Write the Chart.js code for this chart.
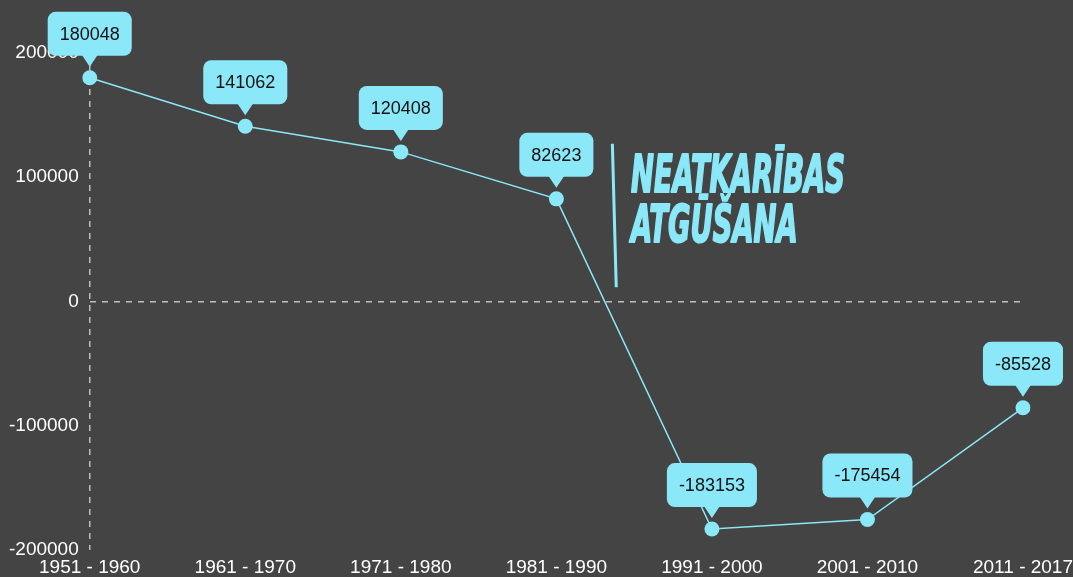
<!DOCTYPE html>
<html>
<head>
<meta charset="utf-8">
<script src="https://cdn.jsdelivr.net/npm/chart.js@4/dist/chart.umd.min.js"></script>
<style>
  html, body { margin: 0; padding: 0; background: #444444; }
  #wrap { width: 1073px; height: 577px; }
</style>
</head>
<body>
<div id="wrap"><canvas id="chart"></canvas></div>
<script>
const decades = ['1951 - 1960', '1961 - 1970', '1971 - 1980', '1981 - 1990', '1991 - 2000', '2001 - 2010', '2011 - 2017'];
const migration = [180048, 141062, 120408, 82623, -183153, -175454, -85528];
const yTicks = [-200000, -100000, 0, 100000, 200000];
const noteLines = ['NEATKARĪBAS', 'ATGŪŠANA'];

const cyan = '#8be8f8';
const gridGrey = '#bdbdbd';
const fontFamily = '"Liberation Sans", Arial, sans-serif';

// callout boxes above each point
const calloutPlugin = {
    id: 'callouts',
    afterDatasetsDraw(chart) {
        const ctx = chart.ctx;
        const meta = chart.getDatasetMeta(0);
        ctx.save();
        ctx.font = '18px ' + fontFamily;
        meta.data.forEach((pt, i) => {
            const txt = String(migration[i]);
            const w = ctx.measureText(txt).width + 24;
            const h = 44;
            const bottom = pt.y - 22;
            const tip = pt.y - 11;
            const left = pt.x - w / 2;
            const top = bottom - h;
            ctx.fillStyle = cyan;
            ctx.beginPath();
            ctx.roundRect(left, top, w, h, 8);
            ctx.fill();
            ctx.beginPath();
            ctx.moveTo(pt.x - 8, bottom - 1);
            ctx.lineTo(pt.x + 8, bottom - 1);
            ctx.lineTo(pt.x, tip);
            ctx.closePath();
            ctx.fill();
            ctx.fillStyle = '#111111';
            ctx.textAlign = 'center';
            ctx.textBaseline = 'middle';
            ctx.fillText(txt, pt.x, top + h / 2 + 1);
        });
        ctx.restore();
    }
};

// "independence restored" marker
const notePlugin = {
    id: 'note',
    afterDatasetsDraw(chart) {
        const ctx = chart.ctx;
        const xs = chart.scales.x;
        const ys = chart.scales.y;
        ctx.save();
        ctx.strokeStyle = cyan;
        ctx.lineWidth = 3;
        ctx.beginPath();
        ctx.moveTo(xs.getPixelForValue(3.36), ys.getPixelForValue(127000));
        ctx.lineTo(xs.getPixelForValue(3.385), ys.getPixelForValue(11500));
        ctx.stroke();

        const x0 = xs.getPixelForValue(3.48);
        ctx.font = 'italic bold 52px "Liberation Sans Narrow", "DejaVu Sans Condensed", sans-serif';
        const sx = 214 / ctx.measureText(noteLines[0]).width;
        ctx.fillStyle = cyan;
        ctx.strokeStyle = cyan;
        ctx.lineWidth = 2;
        ctx.lineJoin = 'round';
        ctx.textBaseline = 'alphabetic';
        ctx.textAlign = 'left';
        ctx.translate(x0, 0);
        ctx.scale(sx, 1);
        const y1 = ys.getPixelForValue(88500);
        const y2 = ys.getPixelForValue(48000);
        ctx.fillText(noteLines[0], 0, y1);
        ctx.strokeText(noteLines[0], 0, y1);
        ctx.fillText(noteLines[1], 0, y2);
        ctx.strokeText(noteLines[1], 0, y2);
        ctx.restore();
    }
};

new Chart(document.getElementById('chart'), {
    type: 'line',
    data: {
        labels: decades,
        datasets: [{
            data: migration,
            borderColor: cyan,
            backgroundColor: cyan,
            borderWidth: 1.5,
            pointRadius: 7.5,
            pointBackgroundColor: cyan,
            pointBorderWidth: 0,
            tension: 0
        }]
    },
    options: {
        responsive: true,
        maintainAspectRatio: false,
        animation: false,
        layout: { padding: { top: 53, left: 6, right: 4, bottom: 0 } },
        plugins: { legend: { display: false }, tooltip: { enabled: false } },
        scales: {
            x: {
                grid: {
                    color: ctx => (ctx.index === 0 ? gridGrey : 'transparent'),
                    lineWidth: 1.5,
                    tickColor: 'transparent',
                    drawTicks: true
                },
                border: { display: false, dash: [6, 6] },
                ticks: { color: '#ffffff', padding: 0, font: { size: 19, family: fontFamily, lineHeight: 1 }, maxRotation: 0 }
            },
            y: {
                min: yTicks[0],
                max: yTicks[yTicks.length - 1],
                afterBuildTicks(scale) { scale.ticks = yTicks.map(v => ({ value: v })); },
                grid: {
                    color: ctx => (ctx.tick && ctx.tick.value === 0 ? gridGrey : 'transparent'),
                    lineWidth: 1.5,
                    tickColor: 'transparent'
                },
                border: { display: false, dash: [6, 6] },
                ticks: {
                    color: '#ffffff',
                    font: { size: 19, family: fontFamily },
                    callback: v => String(v)
                }
            }
        }
    },
    plugins: [calloutPlugin, notePlugin]
});
</script>
</body>
</html>
